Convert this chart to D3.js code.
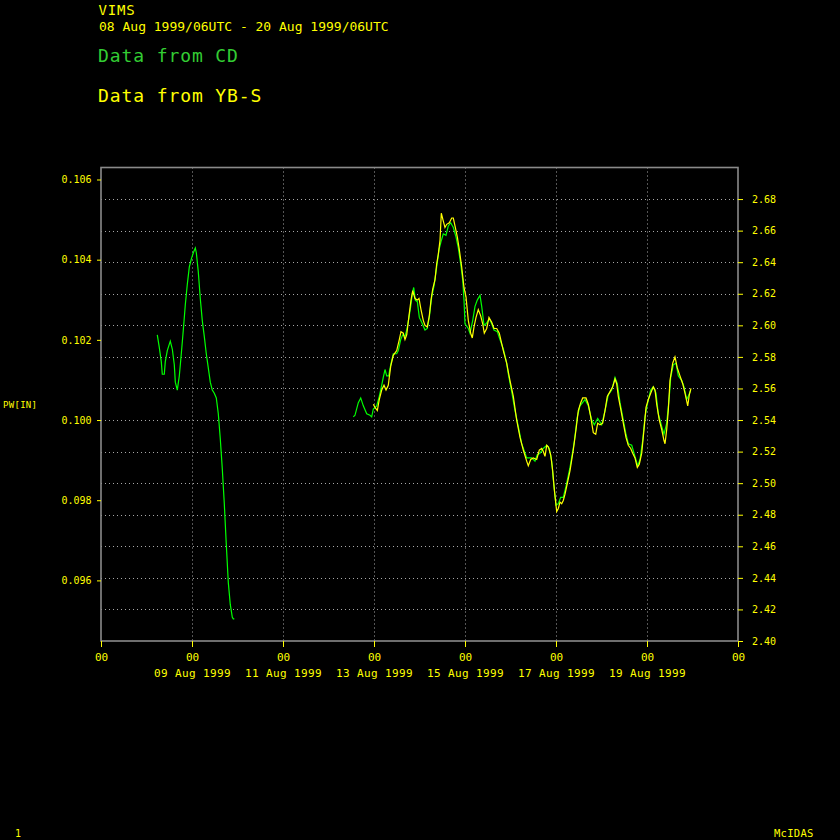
<!DOCTYPE html>
<html>
<head>
<meta charset="utf-8">
<script src="https://cdn.jsdelivr.net/npm/d3@7"></script>
<style>
html,body{margin:0;padding:0;background:#000;}
svg{display:block;}
text{font-family:"DejaVu Sans Mono","Liberation Mono",monospace;}
</style>
</head>
<body>
<svg id="chart" width="840" height="840"></svg>
<script>
// ---------------- DATA ----------------
// times are decimal day of August 1999 (UTC), values are PW in mm (right axis); left axis is the same in inches
const tickDays = [7, 9, 11, 13, 15, 17, 19, 21];
const tickHourLabels = ["00", "00", "00", "00", "00", "00", "00", "00"];
const tickDateLabels = ["", "09 Aug 1999", "11 Aug 1999", "13 Aug 1999", "15 Aug 1999", "17 Aug 1999", "19 Aug 1999", ""];
const leftTicks = [0.096, 0.098, 0.100, 0.102, 0.104, 0.106];
const rightTicks = [2.40, 2.42, 2.44, 2.46, 2.48, 2.50, 2.52, 2.54, 2.56, 2.58, 2.60, 2.62, 2.64, 2.66, 2.68];

const cdDayA = [8.237,8.281,8.325,8.347,8.391,8.413,8.457,8.523,8.567,8.611,8.633,8.677,8.721,8.765,8.809,8.853,8.897,8.941,8.985,9.029,9.073,9.095,9.138,9.182,9.226,9.270,9.314,9.358,9.402,9.446,9.490,9.534,9.578,9.622,9.666,9.710,9.754,9.798,9.842,9.886,9.908,9.930];
const cdValA = [2.594,2.586,2.577,2.569,2.569,2.577,2.584,2.590,2.585,2.575,2.564,2.559,2.568,2.582,2.597,2.613,2.626,2.637,2.642,2.646,2.649,2.646,2.634,2.617,2.603,2.593,2.582,2.573,2.564,2.559,2.557,2.554,2.544,2.528,2.509,2.487,2.461,2.437,2.423,2.415,2.414,2.414];

const cdDayB = [12.545,12.582,12.655,12.708,12.765,12.840,12.912,12.949,12.985,13.059,
13.116,13.169,13.204,13.242,13.279,13.323,13.367,13.424,13.499,13.534,
13.587,13.631,13.681,13.719,13.769,13.807,13.842,13.873,13.908,13.952,
13.996,14.048,14.121,14.171,14.215,14.268,14.319,14.378,14.429,14.473,
14.523,14.582,14.633,14.686,14.743,14.802,14.853,14.905,14.949,14.978,
15.000,15.073,15.110,15.169,15.220,15.270,15.330,15.367,15.418,15.462,
15.534,15.587,15.637,15.710,15.769,15.842,15.916,15.952,16.026,16.099,
16.171,16.246,16.356,16.429,16.466,16.538,16.589,16.648,16.721,16.796,
16.853,16.905,16.941,17.000,17.051,17.103,17.160,17.220,17.308,17.396,
17.468,17.527,17.637,17.710,17.785,17.842,17.916,18.004,18.077,18.149,
18.224,18.297,18.347,18.407,18.479,18.538,18.589,18.664,18.736,18.796,
18.846,18.905,18.956,19.007,19.081,19.138,19.198,19.248,19.323,19.374,
19.433,19.490,19.521,19.578,19.637,19.688,19.763,19.813,19.873,19.908,19.960];
const cdValB = [2.542,2.543,2.551,2.554,2.549,2.544,2.543,2.542,2.547,2.549,
2.555,2.562,2.567,2.572,2.568,2.568,2.575,2.582,2.582,2.584,
2.591,2.594,2.593,2.597,2.605,2.612,2.620,2.624,2.616,2.615,
2.605,2.602,2.597,2.598,2.605,2.618,2.625,2.637,2.648,2.653,
2.658,2.657,2.663,2.665,2.662,2.656,2.649,2.639,2.629,2.616,
2.601,2.598,2.595,2.603,2.612,2.616,2.619,2.612,2.600,2.601,
2.604,2.601,2.597,2.596,2.591,2.585,2.576,2.569,2.558,2.546,
2.536,2.525,2.516,2.516,2.516,2.514,2.518,2.519,2.522,2.524,
2.522,2.514,2.502,2.486,2.487,2.491,2.491,2.498,2.510,2.525,
2.542,2.549,2.553,2.549,2.540,2.537,2.541,2.537,2.546,2.556,
2.559,2.567,2.563,2.551,2.540,2.531,2.525,2.524,2.517,2.511,
2.515,2.527,2.542,2.550,2.559,2.561,2.557,2.544,2.536,2.531,
2.538,2.555,2.567,2.575,2.576,2.568,2.565,2.561,2.553,2.555,2.559];

const ybsDay = [12.985,13.022,13.073,13.116,13.169,13.220,13.264,13.314,13.367,13.424,
13.499,13.556,13.593,13.644,13.681,13.719,13.769,13.813,13.851,13.901,
13.952,13.989,14.033,14.084,14.121,14.171,14.215,14.253,14.290,14.341,
14.378,14.413,14.451,14.479,14.523,14.560,14.598,14.655,14.708,14.743,
14.780,14.831,14.875,14.927,14.978,15.022,15.073,15.125,15.160,15.198,
15.242,15.292,15.345,15.389,15.424,15.477,15.527,15.587,15.637,15.697,
15.754,15.842,15.916,15.989,16.062,16.136,16.209,16.281,16.356,16.391,
16.444,16.501,16.576,16.633,16.686,16.721,16.758,16.796,16.831,16.884,
16.927,16.963,17.015,17.051,17.088,17.125,17.160,17.198,17.235,17.308,
17.380,17.440,17.490,17.543,17.587,17.659,17.710,17.763,17.820,17.873,
17.916,17.967,18.026,18.077,18.127,18.187,18.246,18.297,18.334,18.369,
18.422,18.479,18.538,18.589,18.642,18.686,18.736,18.787,18.831,18.884,
18.934,18.978,19.029,19.081,19.138,19.176,19.213,19.270,19.323,19.374,
19.396,19.433,19.468,19.505,19.565,19.615,19.666,19.725,19.785,19.835,19.895,19.930,19.967];
const ybsVal = [2.550,2.548,2.546,2.553,2.559,2.562,2.559,2.562,2.574,2.581,
2.584,2.591,2.596,2.595,2.591,2.594,2.606,2.616,2.622,2.617,
2.616,2.617,2.610,2.603,2.600,2.599,2.606,2.616,2.623,2.629,
2.639,2.645,2.654,2.671,2.666,2.662,2.664,2.665,2.668,2.668,
2.663,2.656,2.648,2.637,2.624,2.618,2.603,2.595,2.592,2.599,
2.605,2.610,2.606,2.601,2.595,2.598,2.605,2.602,2.598,2.598,
2.595,2.584,2.576,2.565,2.555,2.540,2.529,2.521,2.514,2.511,
2.515,2.516,2.515,2.521,2.522,2.520,2.517,2.524,2.523,2.518,
2.508,2.496,2.482,2.484,2.488,2.487,2.489,2.493,2.498,2.508,
2.521,2.534,2.546,2.551,2.554,2.554,2.550,2.542,2.532,2.531,
2.538,2.537,2.538,2.546,2.555,2.558,2.561,2.566,2.563,2.555,
2.547,2.538,2.529,2.524,2.522,2.519,2.516,2.510,2.512,2.519,
2.534,2.548,2.553,2.557,2.561,2.559,2.550,2.540,2.534,2.527,
2.525,2.534,2.546,2.565,2.576,2.580,2.573,2.568,2.563,2.557,2.549,2.556,2.560];

// ---------------- DRAW ----------------
const YEL = "#ffff00", GRN = "#00ff00", GRNTXT = "#33cc33", FRAME = "#8a8a8a", GRID = "#a8a8a8";
const MM_PER_IN = 25.4;
const svg = d3.select("#chart");
svg.append("rect").attr("width", 840).attr("height", 840).attr("fill", "#000");

const L = 101, R = 738, T = 167.5, B = 641;
const dayToDate = d => new Date(Date.UTC(1999, 7, 1) + (d - 1) * 86400000);

const x = d3.scaleUtc().domain([dayToDate(7), dayToDate(21)]).range([L, R]);
const yR = d3.scaleLinear().domain([2.40, 2.70]).range([B, T]);
const yL = d3.scaleLinear().domain([2.40 / MM_PER_IN, 2.70 / MM_PER_IN]).range([B, T]);

// grid
const grid = svg.append("g");
grid.selectAll("line.h").data(rightTicks.filter(v => v > 2.40)).enter().append("line")
  .attr("x1", L).attr("x2", R).attr("y1", d => Math.round(yR(d)) + 0.5).attr("y2", d => Math.round(yR(d)) + 0.5)
  .attr("stroke", GRID).attr("stroke-width", 1).attr("stroke-dasharray", "1,3");
grid.selectAll("line.v").data(tickDays.slice(1, -1)).enter().append("line")
  .attr("x1", d => Math.round(x(dayToDate(d))) + 0.5).attr("x2", d => Math.round(x(dayToDate(d))) + 0.5)
  .attr("y1", T).attr("y2", B)
  .attr("stroke", GRID).attr("stroke-width", 1).attr("stroke-dasharray", "1,3");

// frame
svg.append("rect").attr("x", L).attr("y", T).attr("width", R - L).attr("height", B - T)
  .attr("fill", "none").attr("stroke", FRAME).attr("stroke-width", 1.6);

// axes
const axL = svg.append("g").attr("transform", `translate(${L},0)`)
  .call(d3.axisLeft(yL).tickValues(leftTicks).tickFormat(d3.format(".3f")).tickSize(4).tickPadding(5.5));
const axR = svg.append("g").attr("transform", `translate(${R},0)`)
  .call(d3.axisRight(yR).tickValues(rightTicks).tickFormat(d3.format(".2f")).tickSize(5).tickPadding(9));
const axB = svg.append("g").attr("transform", `translate(0,${B})`)
  .call(d3.axisBottom(x).tickValues(tickDays.map(dayToDate)).tickFormat((d, i) => tickHourLabels[i]).tickSize(6).tickPadding(6));
[axL, axR, axB].forEach(a => {
  a.select(".domain").remove();
  a.selectAll(".tick line").attr("stroke", YEL);
  a.selectAll(".tick text").attr("fill", YEL).attr("font-size", 10)
    .attr("font-family", "DejaVu Sans Mono");
});
axB.selectAll(".tick text").attr("font-size", 11).attr("dy", "0.71em");
axB.selectAll(".tick").append("text")
  .attr("fill", YEL).attr("font-size", 11).attr("font-family", "DejaVu Sans Mono")
  .attr("letter-spacing", 0.4).attr("text-anchor", "middle")
  .attr("y", 36).text((d, i) => tickDateLabels[i]);

// lines
const line = d3.line().x(d => x(dayToDate(d[0]))).y(d => yR(d[1]));
const series = [
  {pts: d3.zip(cdDayA, cdValA), color: GRN},
  {pts: d3.zip(cdDayB, cdValB), color: GRN},
  {pts: d3.zip(ybsDay, ybsVal), color: YEL}
];
svg.append("g").selectAll("path").data(series).enter().append("path")
  .attr("d", d => line(d.pts)).attr("fill", "none").attr("stroke", d => d.color).attr("stroke-width", 1.2);

// texts
const txt = (s, x0, y0, size, color, ls) => svg.append("text").attr("x", x0).attr("y", y0)
  .attr("font-size", size).attr("fill", color).attr("letter-spacing", ls || 0).text(s);
txt("VIMS", 98.5, 15, 14, YEL, 0.8);
txt("08 Aug 1999/06UTC - 20 Aug 1999/06UTC", 99, 30.5, 13, YEL, 0);
txt("Data from CD", 98, 62, 18, GRNTXT, 0.9);
txt("Data from YB-S", 98, 102, 18, YEL, 0.9);
txt("PW[IN]", 3, 408, 9, YEL, 0.3);
txt("1", 15, 837, 10, YEL, 0);
txt("McIDAS", 774, 837, 10.5, YEL, 0.3);
</script>
</body>
</html>
